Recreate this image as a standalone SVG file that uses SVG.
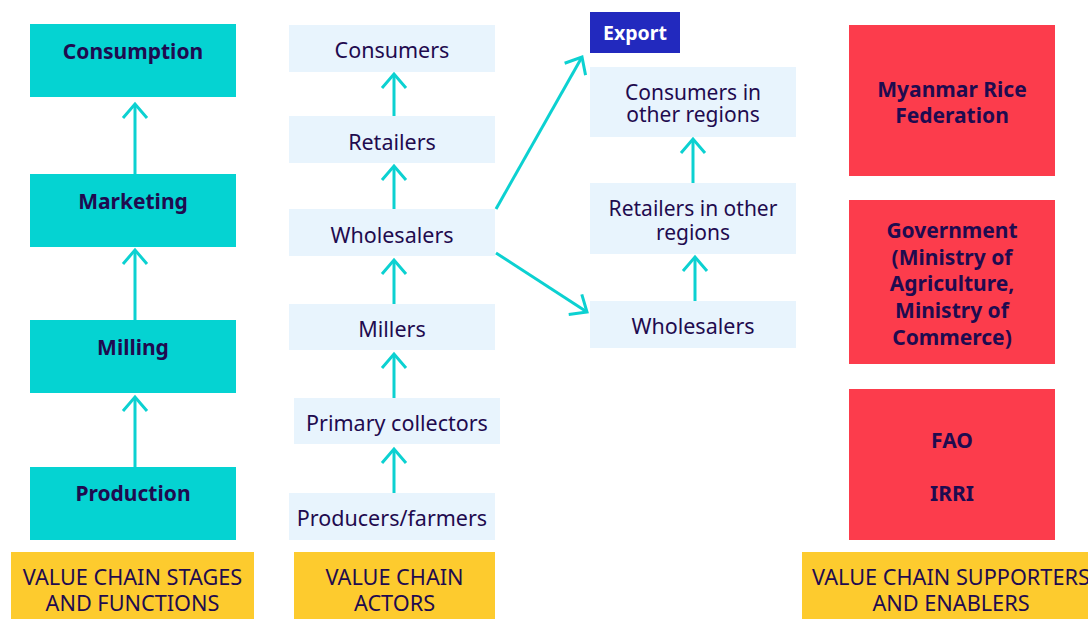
<svg xmlns="http://www.w3.org/2000/svg" width="1088" height="619" viewBox="0 0 1088 619">
<defs>
<style>
.stage{fill:#05D3D2}
.actor{fill:#E8F4FD}
.sup{fill:#FC3C4C}
.cap{fill:#FDCB2E}
.exp{fill:#2229BE}
text{font-family:"Noto Sans","Open Sans","DejaVu Sans",sans-serif;fill:#1F0B4F;text-anchor:middle}
.b{font-weight:bold;font-size:21px}
.r{font-size:21.5px}
.r2{font-size:21px}
.c{font-size:21.7px}
.w{fill:#FFFFFF;font-weight:bold;font-size:19.5px}
.arr{stroke:#0CD1D1;stroke-width:3;fill:none;marker-end:url(#ah)}
</style>
<marker id="ah" markerUnits="userSpaceOnUse" orient="auto" markerWidth="30" markerHeight="30" refX="0" refY="0" viewBox="-18 -15 22 30" overflow="visible">
<path d="M -14,-12 L 0,0 L -14,12" fill="none" stroke="#0CD1D1" stroke-width="3"/>
</marker>
</defs>
<rect width="1088" height="619" fill="#FFFFFF"/>

<g id="connectors">
<line class="arr" x1="135" y1="174" x2="135" y2="104"/>
<line class="arr" x1="135" y1="320" x2="135" y2="250"/>
<line class="arr" x1="135" y1="467" x2="135" y2="397"/>
<line class="arr" x1="394" y1="116" x2="394" y2="74"/>
<line class="arr" x1="394" y1="209" x2="394" y2="166"/>
<line class="arr" x1="394" y1="304" x2="394" y2="260"/>
<line class="arr" x1="394" y1="398" x2="394" y2="354"/>
<line class="arr" x1="394" y1="493" x2="394" y2="449"/>
<line class="arr" x1="693" y1="183" x2="693" y2="139"/>
<line class="arr" x1="695" y1="301" x2="695" y2="257"/>
<line class="arr" x1="496" y1="209" x2="582" y2="57"/>
<line class="arr" x1="496" y1="253" x2="587" y2="312"/>
</g>

<g id="stage-consumption"><rect class="stage" x="30" y="24" width="206" height="73"/><text class="b" x="133" y="59">Consumption</text></g>
<g id="stage-marketing"><rect class="stage" x="30" y="174" width="206" height="73"/><text class="b" x="133" y="209">Marketing</text></g>
<g id="stage-milling"><rect class="stage" x="30" y="320" width="206" height="73"/><text class="b" x="133" y="355">Milling</text></g>
<g id="stage-production"><rect class="stage" x="30" y="467" width="206" height="73"/><text class="b" x="133" y="501">Production</text></g>

<g id="actor-consumers"><rect class="actor" x="289" y="25" width="206" height="47"/><text class="r" x="392" y="58">Consumers</text></g>
<g id="actor-retailers"><rect class="actor" x="289" y="116" width="206" height="47"/><text class="r" x="392" y="150">Retailers</text></g>
<g id="actor-wholesalers"><rect class="actor" x="289" y="209" width="206" height="47"/><text class="r" x="392" y="243">Wholesalers</text></g>
<g id="actor-millers"><rect class="actor" x="289" y="304" width="206" height="46"/><text class="r" x="392" y="337">Millers</text></g>
<g id="actor-primary"><rect class="actor" x="294" y="398" width="206" height="46"/><text class="r" x="397" y="431">Primary collectors</text></g>
<g id="actor-producers"><rect class="actor" x="289" y="493" width="206" height="47"/><text class="r" x="392" y="526">Producers/farmers</text></g>

<g id="export"><rect class="exp" x="590" y="12" width="90" height="41"/><text class="w" x="635" y="40">Export</text></g>
<g id="consumers-other"><rect class="actor" x="590" y="67" width="206" height="70"/><text class="r2" x="693" y="100">Consumers in</text><text class="r2" x="693" y="122">other regions</text></g>
<g id="retailers-other"><rect class="actor" x="590" y="183" width="206" height="71"/><text class="r2" x="693" y="216">Retailers in other</text><text class="r2" x="693" y="240">regions</text></g>
<g id="wholesalers-other"><rect class="actor" x="590" y="301" width="206" height="47"/><text class="r" x="693" y="334">Wholesalers</text></g>

<g id="sup-mrf"><rect class="sup" x="849" y="25" width="206" height="151"/><text class="b" x="952" y="97">Myanmar Rice</text><text class="b" x="952" y="123">Federation</text></g>
<g id="sup-gov"><rect class="sup" x="849" y="200" width="206" height="164"/><text class="b" x="952" y="238">Government</text><text class="b" x="952" y="265">(Ministry of</text><text class="b" x="952" y="291">Agriculture,</text><text class="b" x="952" y="318">Ministry of</text><text class="b" x="952" y="345">Commerce)</text></g>
<g id="sup-fao"><rect class="sup" x="849" y="389" width="206" height="151"/><text class="b" x="952" y="448">FAO</text><text class="b" x="952" y="501">IRRI</text></g>

<g id="cap-stages"><rect class="cap" x="11" y="552" width="243" height="67"/><text class="c" x="132.5" y="585">VALUE CHAIN STAGES</text><text class="c" x="132.5" y="611">AND FUNCTIONS</text></g>
<g id="cap-actors"><rect class="cap" x="294" y="552" width="201" height="67"/><text class="c" x="394.5" y="585">VALUE CHAIN</text><text class="c" x="394.5" y="611">ACTORS</text></g>
<g id="cap-supporters"><rect class="cap" x="802" y="552" width="298" height="67"/><text class="c" x="951" y="585">VALUE CHAIN SUPPORTERS</text><text class="c" x="951" y="611">AND ENABLERS</text></g>
</svg>
